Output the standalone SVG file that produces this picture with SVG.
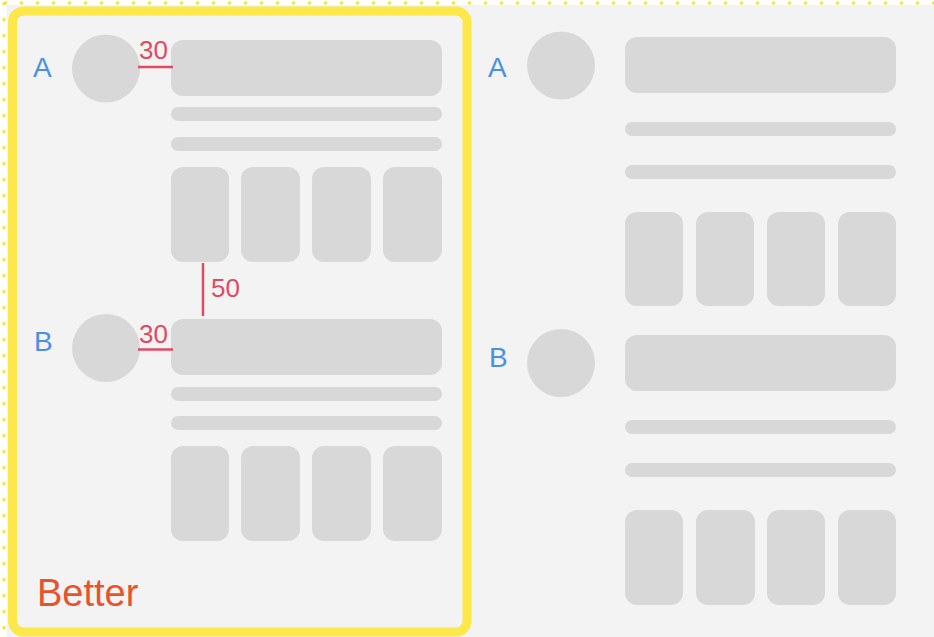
<svg xmlns="http://www.w3.org/2000/svg" width="934" height="637" viewBox="0 0 934 637">
<style>
.g{fill:#d8d8d8}
.lbl{font-family:"Liberation Sans",Arial,sans-serif;fill:#4a90e2;font-size:28px}
.m{font-family:"Liberation Sans",Arial,sans-serif;fill:#e04a64;font-size:26px}
.ml{stroke:#e04a64;stroke-width:2.5;fill:none}
</style>
<rect x="0" y="0" width="934" height="637" fill="#ffffff"/>
<rect x="7" y="5" width="927" height="632" fill="#f3f3f3"/>
<line x1="4" y1="3" x2="934" y2="3" stroke="#f7e43c" stroke-width="3" stroke-dasharray="3 13"/>
<line x1="4" y1="2" x2="4" y2="637" stroke="#f7e43c" stroke-width="3" stroke-dasharray="3 13"/>
<g id="better-frame">
<rect x="12.5" y="11" width="454.5" height="621" rx="11" fill="none" stroke="#fde84a" stroke-width="9"/>
<text x="37" y="606" font-family="Liberation Sans,Arial,sans-serif" font-size="38" fill="#e8532b">Better</text>
</g>
<g id="left-A">
<text class="lbl" x="33" y="77">A</text>
<circle class="g" cx="106" cy="68.5" r="34"/>
<rect class="g" x="171" y="40" width="271" height="56" rx="12"/>
<rect class="g" x="171" y="107" width="271" height="14" rx="7"/>
<rect class="g" x="171" y="137" width="271" height="14" rx="7"/>
<rect class="g" x="171" y="167" width="58" height="95" rx="12"/>
<rect class="g" x="241" y="167" width="59" height="95" rx="12"/>
<rect class="g" x="312" y="167" width="59" height="95" rx="12"/>
<rect class="g" x="383" y="167" width="59" height="95" rx="12"/>
</g>
<g id="left-B">
<text class="lbl" x="34" y="351">B</text>
<circle class="g" cx="106" cy="348" r="34"/>
<rect class="g" x="171" y="319" width="271" height="56" rx="12"/>
<rect class="g" x="171" y="387" width="271" height="14" rx="7"/>
<rect class="g" x="171" y="416" width="271" height="14" rx="7"/>
<rect class="g" x="171" y="446" width="58" height="95" rx="12"/>
<rect class="g" x="241" y="446" width="59" height="95" rx="12"/>
<rect class="g" x="312" y="446" width="59" height="95" rx="12"/>
<rect class="g" x="383" y="446" width="59" height="95" rx="12"/>
</g>
<g id="right-A">
<text class="lbl" x="488" y="77">A</text>
<circle class="g" cx="561" cy="65.5" r="34"/>
<rect class="g" x="625" y="37" width="271" height="56" rx="12"/>
<rect class="g" x="625" y="122" width="271" height="14" rx="7"/>
<rect class="g" x="625" y="165" width="271" height="14" rx="7"/>
<rect class="g" x="625" y="212" width="58" height="94" rx="12"/>
<rect class="g" x="696" y="212" width="58" height="94" rx="12"/>
<rect class="g" x="767" y="212" width="58" height="94" rx="12"/>
<rect class="g" x="838" y="212" width="58" height="94" rx="12"/>
</g>
<g id="right-B">
<text class="lbl" x="489" y="367">B</text>
<circle class="g" cx="561" cy="363" r="34"/>
<rect class="g" x="625" y="335" width="271" height="56" rx="12"/>
<rect class="g" x="625" y="420" width="271" height="14" rx="7"/>
<rect class="g" x="625" y="463" width="271" height="14" rx="7"/>
<rect class="g" x="625" y="510" width="58" height="95" rx="12"/>
<rect class="g" x="696" y="510" width="59" height="95" rx="12"/>
<rect class="g" x="767" y="510" width="58" height="95" rx="12"/>
<rect class="g" x="838" y="510" width="58" height="95" rx="12"/>
</g>
<g id="connectors">
<text class="m" x="139" y="59">30</text>
<line class="ml" x1="138" y1="67" x2="173" y2="67"/>
<text class="m" x="139" y="343">30</text>
<line class="ml" x1="138" y1="349.5" x2="173" y2="349.5"/>
<line class="ml" x1="203" y1="263" x2="203" y2="316"/>
<text class="m" x="211" y="297" font-size="27">50</text>
</g>
</svg>
